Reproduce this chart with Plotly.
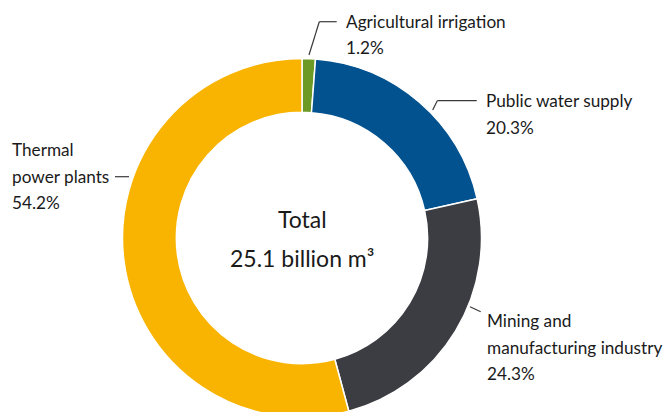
import plotly.graph_objects as go

# ---- data ----
categories = ["Agricultural irrigation", "Public water supply",
              "Mining and manufacturing industry", "Thermal power plants"]
shares = [1.2, 20.3, 24.3, 54.2]
label_lines = [["Agricultural irrigation"], ["Public water supply"],
               ["Mining and", "manufacturing industry"], ["Thermal", "power plants"]]
total_title = "Total"
total_value = "25.1 billion m³"
slice_colors = ["#6C9A24", "#02528F", "#3C3D42", "#F8B400"]

# ---- layout helpers ----
OX, OY = 0, 0
W, H = 664, 418
FONT = "Lato, 'Open Sans', Arial, sans-serif"
TXT = "#1a1a1a"
def px(x):
    return (x - OX) / W
def py(y):
    return 1 - (y - OY) / H

fig = go.Figure()
cx, cy, r = 302, 238, 179.5
fig.add_trace(go.Pie(
    labels=categories, values=shares, sort=False, direction="clockwise",
    rotation=0, hole=0.70, textinfo="none", hoverinfo="label+percent",
    marker=dict(colors=slice_colors, line=dict(color="white", width=1.5)),
    domain=dict(x=[px(cx - r), px(cx + r)], y=[max(0, py(cy + r)), py(cy - r)]),
    showlegend=False,
))

annotations = []
# label positions: left x, first baseline y
label_pos = [(343.5, 27.5), (484, 106.7), (485, 326.7), (10, 156)]
LS = 26.5
fs = 17.2
for lines, v, (lx, by) in zip(label_lines, shares, label_pos):
    for i, t in enumerate(lines + [f"{v}%"]):
        b = by + i * LS
        annotations.append(dict(
            x=px(lx), y=py(b - 0.36 * fs), xref="paper", yref="paper",
            text=t, showarrow=False, xanchor="left", yanchor="middle",
            font=dict(family=FONT, size=fs, color=TXT)))

cfs = 23
for t, b in [(total_title, 227.5), (total_value, 266.7)]:
    annotations.append(dict(
        x=px(302), y=py(b - 0.36 * cfs), xref="paper", yref="paper",
        text=t, showarrow=False, xanchor="center", yanchor="middle",
        font=dict(family=FONT, size=cfs, color=TXT)))

# leader lines (polyline segments in pixel space)
leaders = [
    [(309, 55), (319.3, 21.7), (336.7, 21.7)],
    [(432.7, 110), (437.3, 100.7), (476.7, 100.7)],
    [(470, 306.7), (480.7, 311.7)],
    [(115, 176.7), (129, 176.7)],
]
shapes = []
for pts in leaders:
    for (x0, y0), (x1, y1) in zip(pts[:-1], pts[1:]):
        shapes.append(dict(type="line", xref="paper", yref="paper",
                           x0=px(x0), y0=py(y0), x1=px(x1), y1=py(y1),
                           line=dict(color="#3a3a3a", width=1.2)))

fig.update_layout(
    width=W, height=H, margin=dict(l=0, r=0, t=0, b=0),
    paper_bgcolor="white", plot_bgcolor="white",
    annotations=annotations, shapes=shapes,
)
fig.write_html(
    "out.html",
    config={"displayModeBar": False},
    post_script="document.body.style.margin='0';"
                "document.body.style.overflow='hidden';",
)
